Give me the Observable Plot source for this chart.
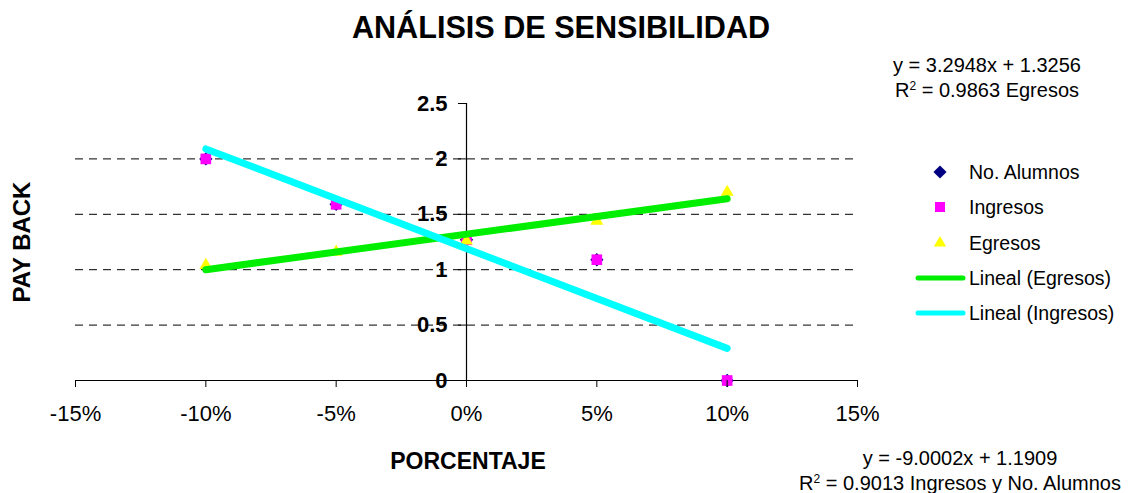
<!DOCTYPE html>
<html>
<head>
<meta charset="utf-8">
<script src="https://cdn.jsdelivr.net/npm/d3@7"></script>
<script src="https://cdn.jsdelivr.net/npm/@observablehq/plot@0.6"></script>
<style>
  html, body { margin: 0; padding: 0; background: #fff; }
  #chart { position: relative; width: 1141px; height: 493px; }
  svg { font-family: "Liberation Sans", Arial, sans-serif; }
</style>
</head>
<body>
<div id="chart"></div>
<script>
// ---- data ----
const porcentaje = [-0.10, -0.05, 0, 0.05, 0.10];
const noAlumnos  = [2.00, 1.59, 1.27, 1.09, 0.00];
const ingresos   = [2.00, 1.59, 1.27, 1.09, 0.00];
const egresos    = [1.04, 1.16, 1.26, 1.44, 1.70];
const xTicks = [-0.15, -0.10, -0.05, 0, 0.05, 0.10, 0.15];
const yTicks = [0, 0.5, 1, 1.5, 2, 2.5];
const gridY  = [0.5, 1, 1.5, 2];
const legendItems = ["No. Alumnos", "Ingresos", "Egresos", "Lineal (Egresos)", "Lineal (Ingresos)"];
const eqEgresos  = ["y = 3.2948x + 1.3256", "0.9863 Egresos"];
const eqIngresos = ["y = -9.0002x + 1.1909", "0.9013 Ingresos y No. Alumnos"];

const rows = (ys) => porcentaje.map((x, i) => ({x, y: ys[i]}));
const dAlumnos = rows(noAlumnos), dIngresos = rows(ingresos), dEgresos = rows(egresos);

const W = 1141, H = 493, ML = 75, MR = 284, MT = 103, MB = 113;
const xDomain = [-0.15, 0.15], yDomain = [0, 2.5];
const x0px = ML + (0 - xDomain[0]) / (xDomain[1] - xDomain[0]) * (W - ML - MR);

const C = {alumnos: "#000080", ingresos: "#ff00ff", egresos: "#ffff00", linE: "#00ee00", linI: "#00ffff"};

const chart = Plot.plot({
  width: W, height: H,
  marginLeft: ML, marginRight: MR, marginTop: MT, marginBottom: MB,
  style: {fontFamily: '"Liberation Sans", Arial, sans-serif', background: "#fff", color: "#000"},
  x: {domain: xDomain},
  y: {domain: yDomain},
  marks: [
    Plot.ruleY(gridY, {stroke: "#000", strokeWidth: 1, strokeDasharray: "8,6"}),
    Plot.ruleX([0], {stroke: "#000", strokeWidth: 1.2}),
    Plot.ruleY([0], {stroke: "#000", strokeWidth: 1.2}),
    Plot.dot(dAlumnos, {x: "x", y: "y", symbol: "diamond2", fill: C.alumnos, stroke: "none", r: 6}),
    Plot.dot(dIngresos, {x: "x", y: "y", symbol: "square", fill: C.ingresos, stroke: "none", r: 6}),
    Plot.dot(dEgresos, {x: "x", y: "y", symbol: "triangle", fill: C.egresos, stroke: "none", r: 4.8}),
    Plot.linearRegressionY(dEgresos, {x: "x", y: "y", stroke: C.linE, strokeWidth: 7, ci: 0, strokeLinecap: "round"}),
    Plot.linearRegressionY(dIngresos, {x: "x", y: "y", stroke: C.linI, strokeWidth: 7, ci: 0, strokeLinecap: "round"}),
    Plot.axisX({anchor: "bottom", ticks: xTicks, tickSize: 7, tickPadding: 18,
      tickFormat: d => `${Math.round(d * 100)}%`, fontSize: 22, label: null, stroke: "#000"}),
    Plot.axisY({anchor: "left", ticks: yTicks, tickSize: 8, tickPadding: 11, dx: x0px - ML,
      tickFormat: d => String(d), fontSize: 22, fontWeight: "bold", label: null, stroke: "#000"})
  ]
});
document.getElementById("chart").appendChild(chart);

const svg = d3.select(chart);
const font = '"Liberation Sans", Arial, sans-serif';
function txt(x, y, s, size, opts = {}) {
  const t = svg.append("text").attr("x", x).attr("y", y)
    .attr("font-size", size).attr("font-family", font).attr("fill", "#000")
    .attr("text-anchor", opts.anchor || "start")
    .attr("font-weight", opts.bold ? "bold" : "normal");
  if (opts.rotate) t.attr("transform", `rotate(${opts.rotate},${x},${y})`);
  t.text(s);
  return t;
}
// title and axis labels
txt(561, 38, "ANÁLISIS DE SENSIBILIDAD", 30.6, {anchor: "middle", bold: true});
txt(468, 469, "PORCENTAJE", 23, {anchor: "middle", bold: true});
txt(30, 242, "PAY BACK", 24, {anchor: "middle", bold: true, rotate: -90});

// regression equations
function eq(cx, y1, y2, lines) {
  txt(cx, y1, lines[0], 20, {anchor: "middle"});
  const t = txt(cx, y2, "", 20, {anchor: "middle"});
  t.append("tspan").text("R");
  t.append("tspan").attr("font-size", 12).attr("dy", -7).text("2");
  t.append("tspan").attr("dy", 7).text(" = " + lines[1]);
}
eq(987, 72, 97, eqEgresos);
eq(960, 465, 490, eqIngresos);

// legend
const legY = [172, 207, 243, 278, 313];
const lg = svg.append("g");
lg.append("path").attr("transform", `translate(940,${legY[0]})`)
  .attr("d", d3.symbol(d3.symbolDiamond2, 110)()).attr("fill", C.alumnos);
lg.append("path").attr("transform", `translate(940,${legY[1]})`)
  .attr("d", d3.symbol(d3.symbolSquare, 100)()).attr("fill", C.ingresos);
lg.append("path").attr("transform", `translate(940,${legY[2]})`)
  .attr("d", d3.symbol(d3.symbolTriangle, 64)()).attr("fill", C.egresos);
lg.append("line").attr("x1", 918).attr("x2", 963).attr("y1", legY[3]).attr("y2", legY[3])
  .attr("stroke", C.linE).attr("stroke-width", 5).attr("stroke-linecap", "round");
lg.append("line").attr("x1", 918).attr("x2", 963).attr("y1", legY[4]).attr("y2", legY[4])
  .attr("stroke", C.linI).attr("stroke-width", 5).attr("stroke-linecap", "round");
legendItems.forEach((s, i) => txt(969, legY[i] + 7, s, 19.5));
</script>
</body>
</html>
